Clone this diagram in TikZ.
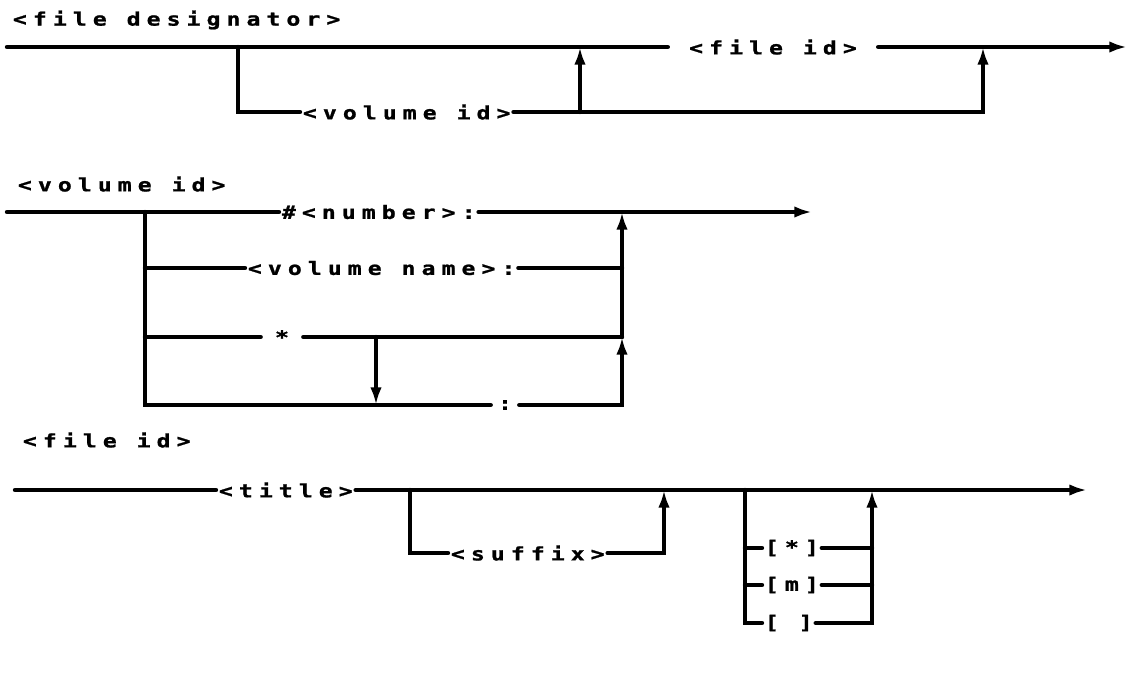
\documentclass[tikz,border=0pt]{standalone}
\usepackage{fontspec}
\newfontfamily\dotfont[LetterSpace=33, FakeStretch=1.25, BoldFeatures={FakeBold=1.2}]{DejaVu Sans Mono}
\usetikzlibrary{arrows.meta}
\tikzset{
	rail/.style={line width=2.5pt, line cap=round},
	railarrow/.style={rail, -{Latex[length=10pt,width=6.5pt]}},
	lbl/.style={font=\dotfont\bfseries\fontsize{10.5}{12}\selectfont, inner xsep=1.5pt, inner ysep=2pt}
}

\begin{document}
\begin{tikzpicture}[x=0.02cm, y=-0.02cm]
		\useasboundingbox (0,0) rectangle (1134,681);
		% <file designator>
		\node[lbl, anchor=west] (fdhead) at (10,20) {<file designator>};
		\coordinate (fdin) at (7,47);
		\node[lbl, inner xsep=12pt] (fdfile) at (773,47) {<file id>};
		\coordinate (fdout) at (1127,47);
		\coordinate (fdsplit) at (238,47);
		\node[lbl, anchor=west] (fdvol) at (300,112) {<volume id>};
		\coordinate (fdup) at (580,112);
		\coordinate (fdjoin) at (983,47);
		\draw[rail] (fdin) -- (fdfile);
		\draw[railarrow] (fdfile) -- (fdout);
		\draw[rail] (fdsplit) |- (fdvol);
		\draw[railarrow] (fdvol) -| (fdjoin);
		\draw[railarrow] (fdup) -- (fdup |- fdin);
		% <volume id>
		\node[lbl, anchor=west] (vihead) at (15,184) {<volume id>};
		\coordinate (viin) at (7,212);
		\node[lbl, anchor=west] (vinum) at (279,212) {\#<number>:};
		\coordinate (viout) at (812,212);
		\coordinate (vileft) at (145,212);
		\coordinate (viright) at (622,212);
		\node[lbl, anchor=west] (viname) at (245,268) {<volume name>:};
		\node[lbl, inner xsep=8pt] (vistar) at (282,337) {*};
		\node[lbl, inner xsep=4pt] (vicolon) at (505,405) {:};
		\coordinate (vidown) at (376,337);
		\draw[rail] (viin) -- (vinum);
		\draw[railarrow] (vinum) -- (viout);
		\draw[rail] (vileft) |- (vicolon);
		\draw[rail] (vileft |- viname) -- (viname);
		\draw[rail] (viname) -- (viname -| viright);
		\draw[rail] (vileft |- vistar) -- (vistar);
		\draw[rail] (vistar) -- (vistar -| viright);
		\draw[railarrow] (vicolon) -| (vistar -| viright);
		\draw[railarrow] (vistar -| viright) -- (viright);
		\draw[railarrow] (vidown) -- (vidown |- vicolon);
		% <file id>
		\node[lbl, anchor=west] (fihead) at (20,440) {<file id>};
		\coordinate (fiin) at (15,490);
		\node[lbl, anchor=west] (fititle) at (216,490) {<title>};
		\coordinate (fiout) at (1087,490);
		\coordinate (fisplit) at (410,490);
		\node[lbl, anchor=west] (fisuffix) at (448,553) {<suffix>};
		\coordinate (fijoin) at (664,490);
		\coordinate (fioptl) at (745,490);
		\coordinate (fioptr) at (872,490);
		\node[lbl, anchor=west] (fiall) at (762,548) {[*]};
		\node[lbl, anchor=west] (fimine) at (762,585) {[m]};
		\node[lbl, anchor=west] (finone) at (762,623) {[ ]};
		\draw[rail] (fiin) -- (fititle);
		\draw[railarrow] (fititle) -- (fiout);
		\draw[rail] (fisplit) |- (fisuffix);
		\draw[railarrow] (fisuffix) -| (fijoin);
		\draw[rail] (fioptl) |- (finone);
		\draw[rail] (fioptl |- fiall) -- (fiall);
		\draw[rail] (fiall) -- (fiall -| fioptr);
		\draw[rail] (fioptl |- fimine) -- (fimine);
		\draw[rail] (fimine) -- (fimine -| fioptr);
		\draw[railarrow] (finone) -| (fioptr);
\end{tikzpicture}
\end{document}
